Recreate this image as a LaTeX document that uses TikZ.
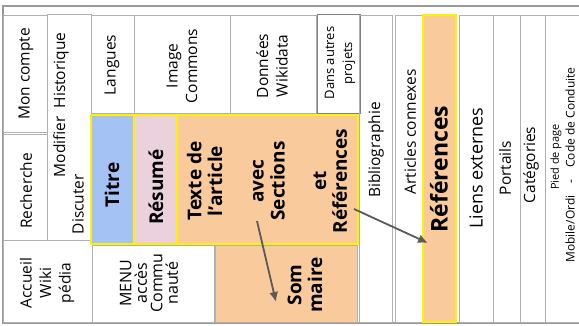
\documentclass[tikz,border=0pt]{standalone}
\usepackage{fontspec}
\setmainfont{Open Sans}
\usetikzlibrary{arrows.meta}
\definecolor{titreblue}{HTML}{A4C2F4}
\definecolor{resumepink}{HTML}{EAD1DC}
\definecolor{texteorange}{HTML}{F9CB9C}
\definecolor{zoneyellow}{HTML}{FFF200}
\definecolor{cellgray}{HTML}{B0B0B0}
\definecolor{arrowgray}{HTML}{5A5A5A}

\begin{document}
\begin{tikzpicture}[x = 1pt, y = -1pt,
			cell/.style = {draw = cellgray, line width = 0.8pt},
			zone/.style = {draw = zoneyellow, line width = 1.6pt},
			lbl/.style = {rotate = 90, align = center, inner sep = 0pt, font = \fontsize{15.5}{19.5}\selectfont},
			blbl/.style = {rotate = 90, align = center, inner sep = 0pt, font = \bfseries\fontsize{19}{20.8}\selectfont},
			flow/.style = {draw = arrowgray, line width = 1.8pt, -{Latex[length = 10pt, width = 9pt]}}]
			\useasboundingbox (0, 0) rectangle (579, 326);
			\clip (0, 0) rectangle (579, 326);
			\fill[white] (0, 0) rectangle (579, 326);
			\draw[draw = gray!80, line width = 1.6pt] (3, 6) rectangle (600, 323);
			\draw[cell] (3, 15) rectangle (47, 132);
			\draw[cell] (3, 134) rectangle (47, 240);
			\draw[cell] (47, 14) rectangle (91, 240);
			\draw[cell] (3, 240) rectangle (92, 322);
			\draw[cell] (91, 15) rectangle (134, 113);
			\draw[cell] (134, 15) rectangle (230, 113);
			\draw[cell] (230, 15) rectangle (316, 113);
			\draw[cell, draw = gray] (317, 14) rectangle (360, 113);
			\draw[cell] (92, 245) rectangle (214, 322);
			\draw[cell, fill = texteorange] (215, 245) rectangle (357, 322);
			\draw[cell] (359, 15) rectangle (392, 322);
			\draw[cell] (395, 15) rectangle (422, 322);
			\draw[zone, fill = texteorange] (423, 15) rectangle (456, 322);
			\draw[cell] (459, 15) rectangle (493, 322);
			\draw[cell] (493, 15) rectangle (520, 322);
			\draw[cell] (520, 15) rectangle (545, 322);
			\draw[cell] (545, 15) rectangle (600, 322);
			\fill[titreblue] (91, 115) rectangle (134, 244);
			\fill[resumepink] (134, 115) rectangle (177, 244);
			\fill[texteorange] (177, 115) rectangle (358, 244);
			\draw[zone] (91, 115) rectangle (134, 244);
			\draw[zone] (134, 115) rectangle (177, 244);
			\draw[zone] (177, 115) rectangle (358, 244);
			\node[lbl] (moncompte) at (26, 74) {Mon compte};
			\node[lbl] (recherche) at (26, 191) {Recherche};
			\node[lbl] (modifier) at (61, 105) {Modifier\ \ Historique};
			\node[lbl] (discuter) at (78, 204) {Discuter};
			\node[lbl] (accueil) at (47, 283) {Accueil\\Wiki\\pédia};
			\node[lbl] (langues) at (112, 65) {Langues};
			\node[lbl] (image) at (182, 66) {Image\\Commons};
			\node[lbl] (donnees) at (272, 66) {Données\\Wikidata};
			\node[lbl, font = \fontsize{13}{18}\selectfont] (autres) at (340, 63) {Dans autres\\projets};
			\node[lbl, font = \fontsize{16}{15.5}\selectfont] (menu) at (149, 283) {MENU\\accès\\Commu\\nauté};
			\node[blbl] (titre) at (112, 185) {Titre};
			\node[blbl] (resume) at (156, 187) {Résumé};
			\node[blbl] (texte) at (267, 181) {Texte de\\l'article\\ \\avec\\Sections\\ \\et\\Références};
			\node[blbl] (sommaire) at (305, 285) {Som\\maire};
			\node[lbl] (biblio) at (376, 150) {Bibliographie};
			\node[lbl] (connexes) at (410, 132) {Articles connexes};
			\node[blbl, font = \bfseries\fontsize{23}{24}\selectfont] (references) at (439, 169) {Références};
			\node[lbl, font = \fontsize{18}{20}\selectfont] (liens) at (476, 168) {Liens externes};
			\node[lbl] (portails) at (505, 168) {Portails};
			\node[lbl] (categories) at (531, 165) {Catégories};
			\node[lbl, font = \fontsize{11}{12}\selectfont] (pied) at (556, 157) {Pied de page};
			\node[lbl, font = \fontsize{12}{13}\selectfont] (mobile) at (570, 165) {Mobile/Ordi\quad-\quad Code de Conduite};
			\coordinate (sectionsfrom) at (257, 221);
			\coordinate (sommaireto) at (276, 302);
			\coordinate (referencesfrom) at (354, 209);
			\coordinate (referencesto) at (428, 243);
			\draw[flow] (sectionsfrom) -- (sommaireto);
			\draw[flow] (referencesfrom) -- (referencesto);
		\end{tikzpicture}
\end{document}
